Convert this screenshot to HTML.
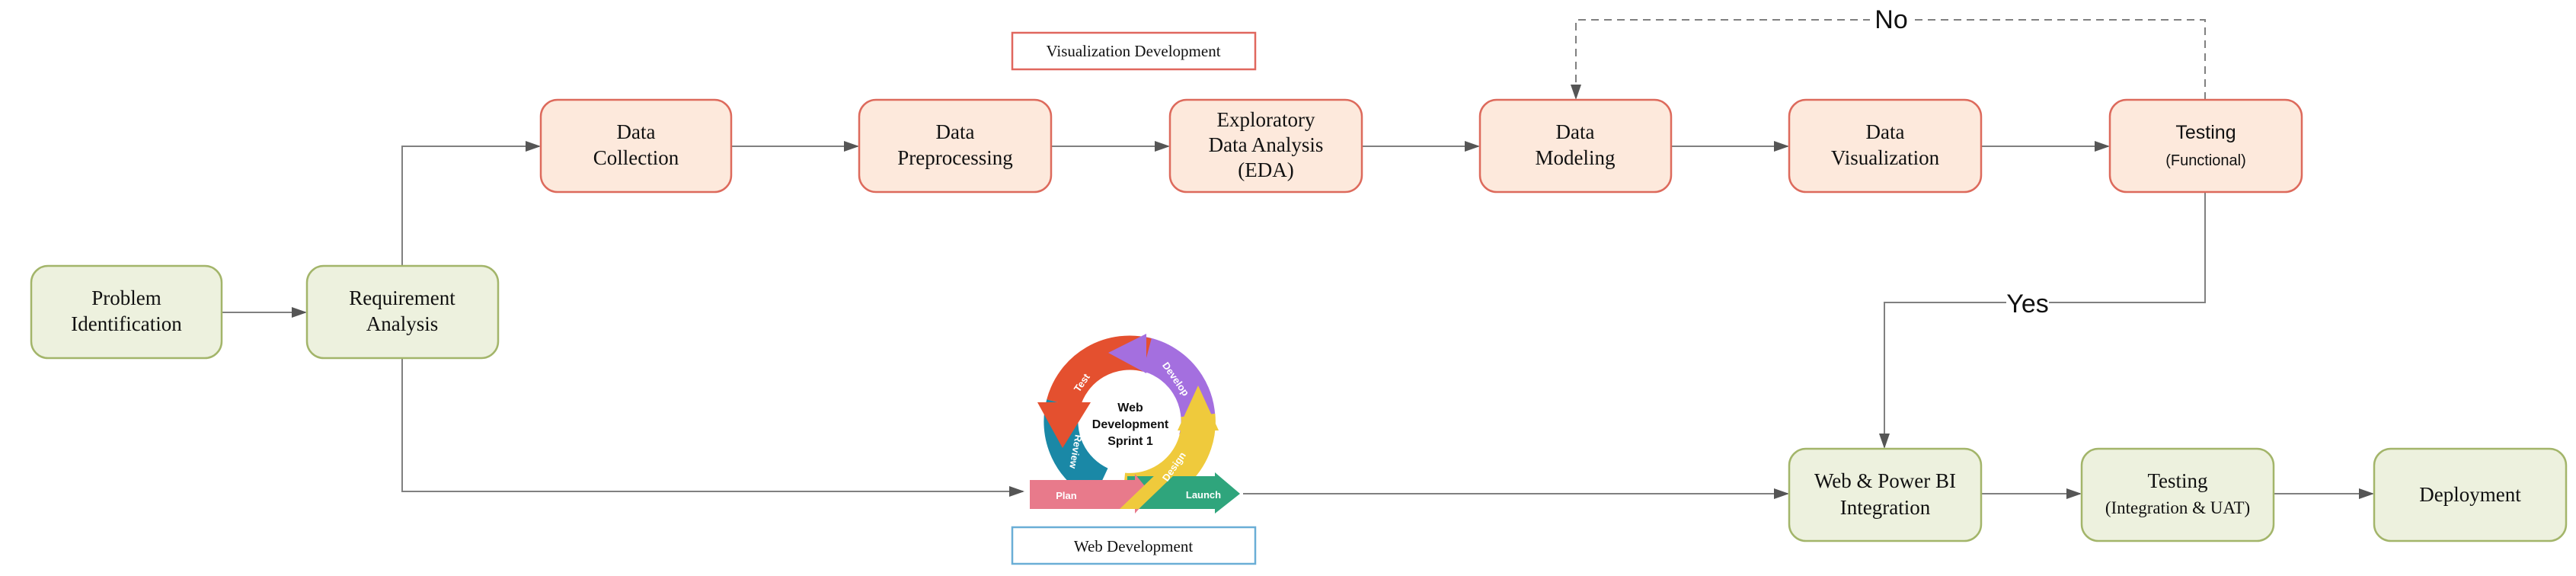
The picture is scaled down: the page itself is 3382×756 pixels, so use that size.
<!DOCTYPE html>
<html><head><meta charset="utf-8"><style>
html,body{margin:0;padding:0;background:#fff;}
svg{display:block;}
.s{font-family:"Liberation Serif",serif;font-size:27px;fill:#111;}
.a{font-family:"Liberation Sans",sans-serif;fill:#111;}
</style></head><body>
<svg width="3382" height="756" viewBox="0 0 3382 756" xmlns="http://www.w3.org/2000/svg">
<defs>
<marker id="ar2" markerWidth="20" markerHeight="20" refX="18" refY="10" orient="auto" markerUnits="userSpaceOnUse" viewBox="0 0 20 20">
<path d="M0,3 L20,10 L0,17 z" fill="#555"/></marker>
</defs>
<g stroke="#808080" stroke-width="2" fill="none">
<line x1="291" y1="410" x2="401" y2="410" marker-end="url(#ar2)"/>
<polyline points="528,349 528,192 708,192" marker-end="url(#ar2)"/>
<polyline points="528,470 528,645 1343,645" marker-end="url(#ar2)"/>
<line x1="960" y1="192" x2="1126" y2="192" marker-end="url(#ar2)"/>
<line x1="1380" y1="192" x2="1534" y2="192" marker-end="url(#ar2)"/>
<line x1="1788" y1="192" x2="1941" y2="192" marker-end="url(#ar2)"/>
<line x1="2194" y1="192" x2="2347" y2="192" marker-end="url(#ar2)"/>
<line x1="2601" y1="192" x2="2768" y2="192" marker-end="url(#ar2)"/>
<line x1="1632" y1="648" x2="2347" y2="648" marker-end="url(#ar2)"/>
<line x1="2601" y1="648" x2="2731" y2="648" marker-end="url(#ar2)"/>
<line x1="2985" y1="648" x2="3115" y2="648" marker-end="url(#ar2)"/>
<polyline points="2895,252 2895,397 2474,397 2474,587" marker-end="url(#ar2)"/>
<polyline points="2895,131 2895,26 2069,26 2069,129" stroke-dasharray="10,7" marker-end="url(#ar2)"/>
</g>
<rect x="2455" y="8" width="56" height="36" fill="#fff"/>
<text x="2483" y="37" text-anchor="middle" class="a" font-size="34">No</text>
<rect x="2634" y="380" width="56" height="36" fill="#fff"/>
<text x="2662" y="410" text-anchor="middle" class="a" font-size="34">Yes</text>

<g stroke-width="2.5">
<rect x="41" y="349" width="250" height="121" rx="22" fill="#edf1de" stroke="#a3b56a"/>
<rect x="403" y="349" width="251" height="121" rx="22" fill="#edf1de" stroke="#a3b56a"/>
<rect x="710" y="131" width="250" height="121" rx="22" fill="#fde9dc" stroke="#dd6a5c"/>
<rect x="1128" y="131" width="252" height="121" rx="22" fill="#fde9dc" stroke="#dd6a5c"/>
<rect x="1536" y="131" width="252" height="121" rx="22" fill="#fde9dc" stroke="#dd6a5c"/>
<rect x="1943" y="131" width="251" height="121" rx="22" fill="#fde9dc" stroke="#dd6a5c"/>
<rect x="2349" y="131" width="252" height="121" rx="22" fill="#fde9dc" stroke="#dd6a5c"/>
<rect x="2770" y="131" width="252" height="121" rx="22" fill="#fde9dc" stroke="#dd6a5c"/>
<rect x="2349" y="589" width="252" height="121" rx="22" fill="#edf1de" stroke="#a3b56a"/>
<rect x="2733" y="589" width="252" height="121" rx="22" fill="#edf1de" stroke="#a3b56a"/>
<rect x="3117" y="589" width="252" height="121" rx="22" fill="#edf1de" stroke="#a3b56a"/>
<rect x="1329" y="43" width="319" height="48" fill="#fff" stroke="#e0675e"/>
<rect x="1329" y="692" width="319" height="48" fill="#fff" stroke="#6aaed6"/>
</g>
<g class="s" text-anchor="middle">
<text x="166" y="400">Problem</text><text x="166" y="434">Identification</text>
<text x="528" y="400">Requirement</text><text x="528" y="434">Analysis</text>
<text x="835" y="182">Data</text><text x="835" y="216">Collection</text>
<text x="1254" y="182">Data</text><text x="1254" y="216">Preprocessing</text>
<text x="1662" y="166">Exploratory</text><text x="1662" y="199">Data Analysis</text><text x="1662" y="232">(EDA)</text>
<text x="2068" y="182">Data</text><text x="2068" y="216">Modeling</text>
<text x="2475" y="182">Data</text><text x="2475" y="216">Visualization</text>
<text x="2475" y="640">Web &amp; Power BI</text><text x="2475" y="675">Integration</text>
<text x="2859" y="640">Testing</text><text x="2859" y="674" font-size="23">(Integration &amp; UAT)</text>
<text x="3243" y="658">Deployment</text>
<text x="1488" y="74" font-size="21">Visualization Development</text>
<text x="1488" y="724" font-size="21">Web Development</text>
</g>
<text x="2896" y="182" text-anchor="middle" class="a" font-size="25">Testing</text>
<text x="2896" y="217" text-anchor="middle" class="a" font-size="20">(Functional)</text>

<!-- cycle -->
<g fill="none" stroke-width="45">
<path d="M1445,635 A90,90 0 0 1 1396,530" stroke="#1a88a6"/>
<path d="M1570,576 A90,90 0 0 0 1499,464" stroke="#a46fdf"/>
<path d="M1506,466 A90,90 0 0 0 1396,530" stroke="#e4502f"/>
<path d="M1475,643 A90,90 0 0 0 1573,545" stroke="#efca3c"/>
</g>
<path d="M1362,528 L1432,528 L1395,588 z" fill="#e4502f"/>
<path d="M1505,438 L1505,490 L1455,463 z" fill="#a46fdf"/>
<path d="M1546,565 L1600,565 L1573,506 z" fill="#efca3c"/>
<path d="M1480,625 L1595,625 L1595,620 L1628,648 L1595,674 L1595,668 L1480,668 z" fill="#2fa57c"/>
<path d="M1352,630 L1490,630 L1490,622 L1512,649 L1490,674 L1490,668 L1352,668 z" fill="#e87a8b"/>
<path d="M1470,668 L1520,620 L1545,620 L1495,668 z" fill="#efca3c"/>
<g font-family="Liberation Sans,sans-serif" font-weight="bold" text-anchor="middle" fill="#111">
<text x="1484" y="540" font-size="16">Web</text>
<text x="1484" y="562" font-size="16">Development</text>
<text x="1484" y="584" font-size="16">Sprint 1</text>
</g>
<g font-family="Liberation Sans,sans-serif" font-weight="bold" fill="#fff" font-size="13" text-anchor="middle">
<text x="1400" y="655">Plan</text>
<text x="1580" y="654">Launch</text>
<text x="1424" y="505" transform="rotate(-55 1424 505)">Test</text>
<text x="1540" y="500" transform="rotate(55 1540 500)">Develop</text>
<text x="1545" y="615" transform="rotate(-55 1545 615)">Design</text>
<text x="1408" y="592" transform="rotate(100 1408 592)">Review</text>
</g>
</svg>
</body></html>
